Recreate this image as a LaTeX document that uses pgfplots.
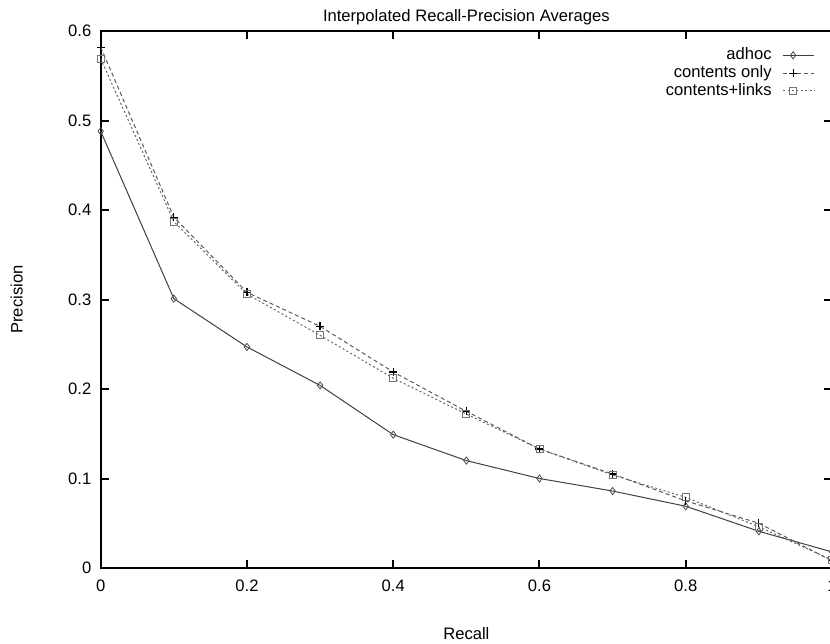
\documentclass[border=0pt]{standalone}
\usepackage{pgfplots}
\pgfplotsset{compat=1.18}
\usepackage{fontspec}
\setmainfont{Liberation Sans}
\begin{document}
\begin{tikzpicture}[font=\fontsize{8.3}{10}\selectfont]
\begin{axis}[
  at={(0,0)}, anchor=south west,
  scale only axis, width=365.65pt, height=268.5pt,
  xmin=0, xmax=1, ymin=0, ymax=0.6,
  xtick={0,0.2,0.4,0.6,0.8,1},
  ytick={0,0.1,0.2,0.3,0.4,0.5,0.6},
  axis line style={line width=1pt},
  tick style={line width=1pt, black},
  major tick length=4pt, tick align=inside,
  /pgf/number format/assume math mode=true,
  /pgf/number format/fixed,
  tick label style={inner sep=0pt, font=\fontsize{8.3}{10}\selectfont},
  xticklabel shift=6pt,
  yticklabel shift=4.5pt,
  title={Interpolated Recall-Precision Averages},
  every axis title/.style={at={(axis description cs:0.5,1)}, anchor=base, yshift=4.65pt},
  xlabel={Recall},
  every axis x label/.style={at={(axis description cs:0.5,0)}, anchor=base, yshift=-35.65pt},
  ylabel={Precision},
  every axis y label/.style={at={(axis description cs:0,0.5)}, xshift=-42pt, rotate=90, anchor=center},
  legend plot pos=right,
  legend style={draw=none, fill=none, at={(1,1)}, anchor=north east, xshift=-8.5pt, yshift=-7.5pt, inner sep=0pt, cells={anchor=east}, nodes={inner sep=0.7pt, text height=6pt, text depth=1.5pt}, column sep=4.8pt},
  legend image code/.code={\draw[mark repeat=2,mark phase=2,#1] plot coordinates {(0pt,0pt) (5pt,0pt) (15.5pt,0pt)};},
]
\addplot[color=black!75, line width=0.5pt, mark=diamond, mark size=1.8pt, mark options={solid, black!70, line width=0.4pt}]
coordinates {(0,0.488) (0.1,0.301) (0.2,0.247) (0.3,0.204) (0.4,0.149) (0.5,0.120) (0.6,0.100) (0.7,0.086) (0.8,0.069) (0.9,0.041) (1,0.018)};
\addlegendentry{adhoc}
\addplot[color=black!65, line width=0.5pt, dash pattern=on 2pt off 1.5pt, mark=+, mark size=2pt, mark options={solid, black, line width=0.6pt}]
coordinates {(0,0.582) (0.1,0.392) (0.2,0.308) (0.3,0.270) (0.4,0.219) (0.5,0.175) (0.6,0.133) (0.7,0.105) (0.8,0.075) (0.9,0.050) (1,0.008)};
\addlegendentry{contents only}
\addplot[color=black!60, line width=0.5pt, dash pattern=on 1pt off 1.2pt, mark=square, mark size=1.75pt, mark options={solid, black!55, line width=0.45pt}]
coordinates {(0,0.569) (0.1,0.387) (0.2,0.306) (0.3,0.260) (0.4,0.212) (0.5,0.172) (0.6,0.133) (0.7,0.104) (0.8,0.079) (0.9,0.046) (1,0.009)};
\addlegendentry{contents+links}
\end{axis}
\pgfresetboundingbox
\useasboundingbox (-50.35pt,-37.5pt) rectangle (364.65pt,284pt);
\end{tikzpicture}
\end{document}
